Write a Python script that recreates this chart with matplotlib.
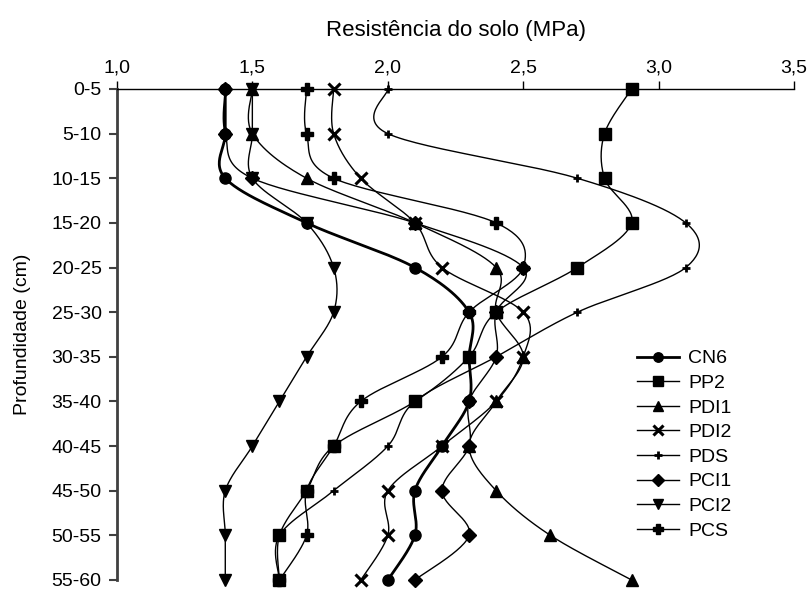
import numpy as np
import matplotlib
matplotlib.use("Agg")
from matplotlib import pyplot as plt
from matplotlib.lines import Line2D

plt.rcParams['font.family'] = ['Liberation Sans', 'DejaVu Sans']
plt.rcParams['font.size'] = 14

# Profundidades (categorias do eixo y)
depths = ["0-5", "5-10", "10-15", "15-20", "20-25", "25-30",
          "30-35", "35-40", "40-45", "45-50", "50-55", "55-60"]

# Resistência do solo (MPa) para cada tratamento
cn6 = [1.4, 1.4, 1.4, 1.7, 2.1, 2.3, 2.3, 2.3, 2.2, 2.1, 2.1, 2.0]
pp2 = [2.9, 2.8, 2.8, 2.9, 2.7, 2.4, 2.3, 2.1, 1.8, 1.7, 1.6, 1.6]
pdi1 = [1.5, 1.5, 1.7, 2.1, 2.4, 2.4, 2.5, 2.4, 2.3, 2.4, 2.6, 2.9]
pdi2 = [1.8, 1.8, 1.9, 2.1, 2.2, 2.5, 2.5, 2.4, 2.2, 2.0, 2.0, 1.9]
pds = [2.0, 2.0, 2.7, 3.1, 3.1, 2.7, 2.4, 2.1, 2.0, 1.8, 1.6, 1.6]
pci1 = [1.4, 1.4, 1.5, 2.1, 2.5, 2.4, 2.4, 2.3, 2.3, 2.2, 2.3, 2.1]
pci2 = [1.5, 1.5, 1.5, 1.7, 1.8, 1.8, 1.7, 1.6, 1.5, 1.4, 1.4, 1.4]
pcs = [1.7, 1.7, 1.8, 2.4, 2.5, 2.3, 2.2, 1.9, 1.8, 1.7, 1.7, 1.6]

series = [
    ("CN6", cn6, dict(marker='o', ms=8, lw=2.0)),
    ("PP2", pp2, dict(marker='s', ms=8, lw=1.0)),
    ("PDI1", pdi1, dict(marker='^', ms=9, lw=1.0)),
    ("PDI2", pdi2, dict(marker='x', ms=8, mew=2.2, lw=1.0)),
    ("PDS", pds, dict(marker='+', ms=6, mew=2.0, lw=1.0)),
    ("PCI1", pci1, dict(marker='D', ms=7, lw=1.0)),
    ("PCI2", pci2, dict(marker='v', ms=9, lw=1.0)),
    ("PCS", pcs, dict(marker='P', ms=8, lw=1.0)),
]


# Curva suavizada (Catmull-Rom convertida em Bezier, como no Excel)
def smooth_curve(xs, ys, n=30):
    pts = np.column_stack([xs, ys]).astype(float)
    out = []
    for i in range(len(pts) - 1):
        p0 = pts[max(i - 1, 0)]
        p1 = pts[i]
        p2 = pts[i + 1]
        p3 = pts[min(i + 2, len(pts) - 1)]
        c1 = p1 + (p2 - p0) / 6
        c2 = p2 - (p3 - p1) / 6
        t = np.linspace(0, 1, n)[:, None]
        seg = ((1 - t) ** 3) * p1 + 3 * ((1 - t) ** 2) * t * c1 + 3 * (1 - t) * t ** 2 * c2 + t ** 3 * p2
        out.append(seg if i == 0 else seg[1:])
    curve = np.vstack(out)
    return curve[:, 0], curve[:, 1]


fig = plt.figure(figsize=(8.12, 5.92), dpi=100)
ax = fig.add_axes([0.144, 0.0203, 0.834, 0.8294])

ypos = np.arange(len(depths))
handles = []
for name, vals, st in series:
    sx, sy = smooth_curve(vals, ypos)
    ax.plot(sx, sy, color='black', lw=st['lw'], clip_on=False, zorder=2)
    ax.plot(vals, ypos, ls='none', marker=st['marker'], ms=st['ms'],
            mew=st.get('mew', 1.0), color='black', clip_on=False, zorder=3)
    # marcadores da legenda um pouco menores
    handles.append(Line2D([], [], color='black', lw=st['lw'], marker=st['marker'],
                          ms=st['ms'] * 0.85, mew=st.get('mew', 1.0), label=name))

ax.set_xlim(1.0, 3.5)
ax.set_ylim(len(depths) - 1, 0)
ax.set_yticks(ypos)
ax.set_yticklabels(depths)
ax.set_xticks([1.0, 1.5, 2.0, 2.5, 3.0, 3.5])
ax.set_xticklabels(["1,0", "1,5", "2,0", "2,5", "3,0", "3,5"])
ax.xaxis.tick_top()
ax.xaxis.set_label_position('top')
ax.tick_params(axis='x', direction='out', length=6, width=1, pad=3)
ax.tick_params(axis='y', direction='out', length=6, width=1.5, color='#404040', pad=5)
ax.spines['right'].set_visible(False)
ax.spines['bottom'].set_visible(False)
ax.spines['left'].set_color('#404040')
ax.spines['left'].set_linewidth(2)
ax.spines['top'].set_linewidth(1)

ax.set_xlabel("Resistência do solo (MPa)", fontsize=16, labelpad=17)
ax.set_ylabel("Profundidade (cm)", labelpad=15)

ax.legend(handles=handles, loc='upper left', bbox_to_anchor=(627 / 812, 1 - 340 / 592),
          bbox_transform=fig.transFigure, frameon=False, borderpad=0,
          handlelength=2.15, labelspacing=0.36, handletextpad=0.5)

fig.savefig("out.png", dpi=100)
